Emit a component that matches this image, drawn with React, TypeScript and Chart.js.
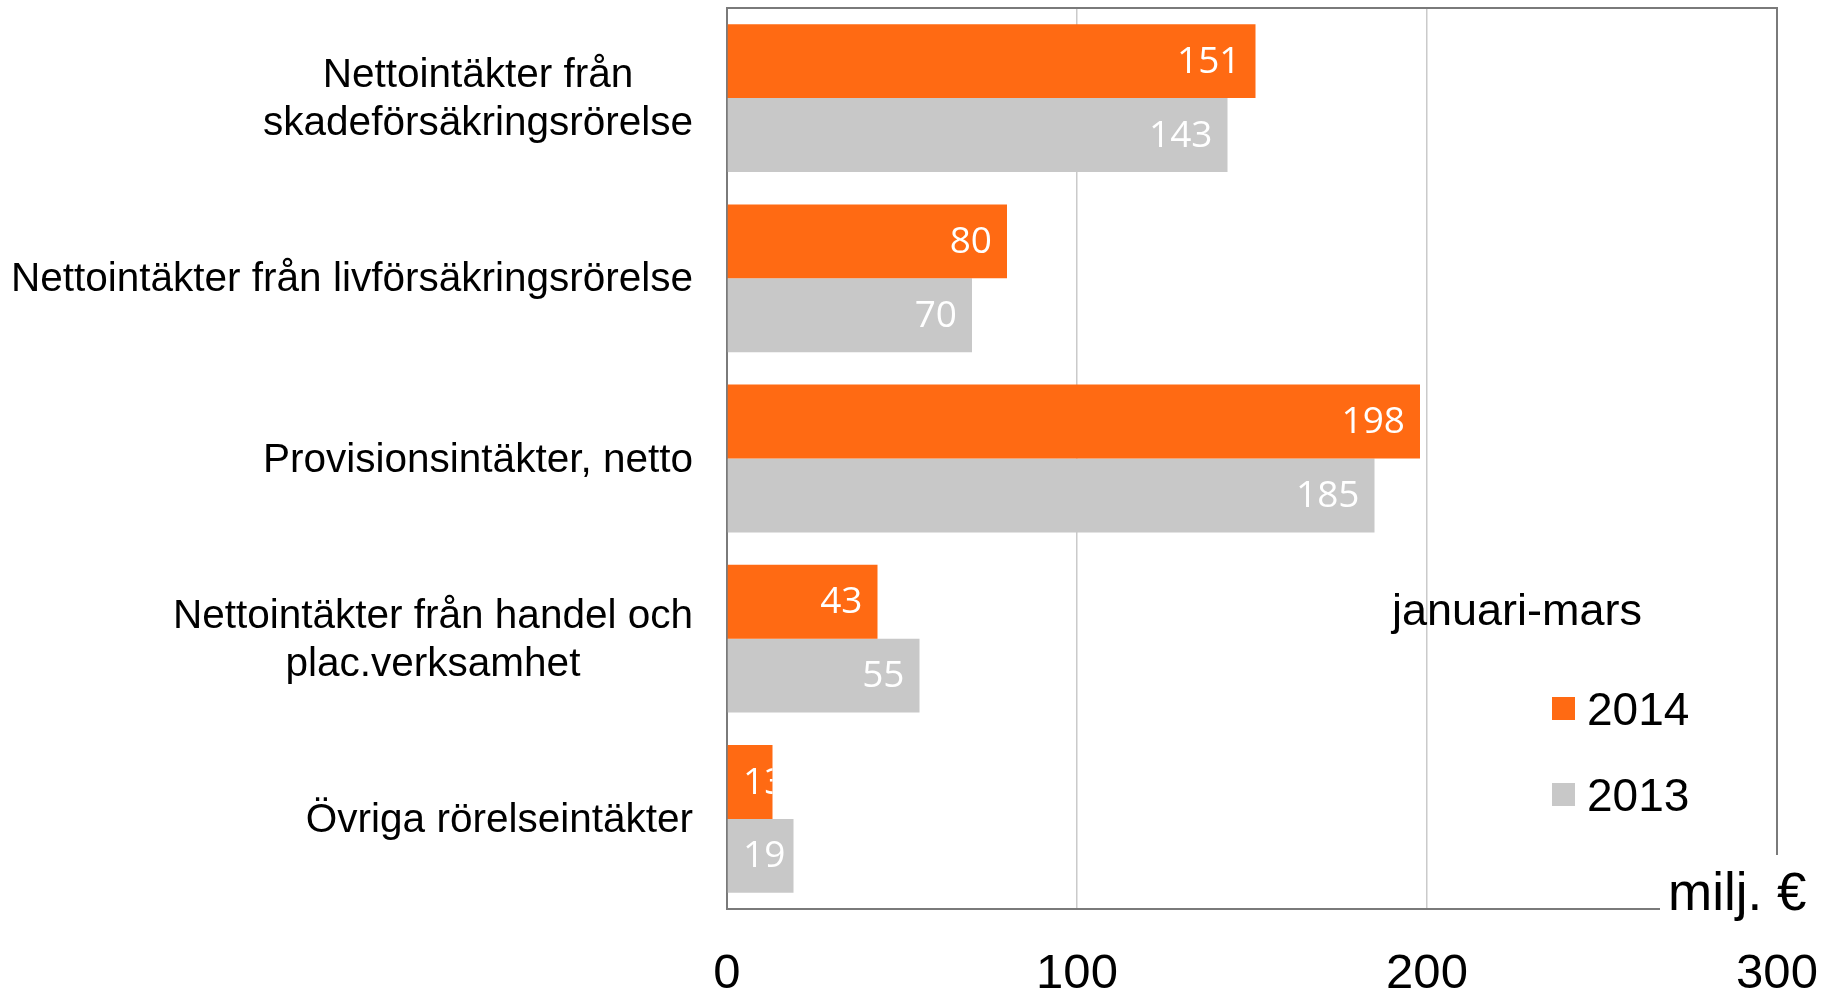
import React, { useEffect, useRef } from "react";
import { Chart, registerables } from "chart.js";

Chart.register(...registerables);

// ---- data ----
const categories: string[][] = [
  ["Nettointäkter från", "skadeförsäkringsrörelse"],
  ["Nettointäkter från livförsäkringsrörelse"],
  ["Provisionsintäkter, netto"],
  ["Nettointäkter från handel och", "plac.verksamhet"],
  ["Övriga rörelseintäkter"],
];
const seriesNames = ["2014", "2013"];
const values2014 = [151, 80, 198, 43, 13];
const values2013 = [143, 70, 185, 55, 19];
const xTickValues = [0, 100, 200, 300];
const legendTitle = "januari-mars";
const unitLabel = "milj. €";

// ---- styles ----
const ORANGE = "#ff6a13";
const GREY = "#c8c8c8";
const BORDER = "#7a7a7a";
const GRID = "#cacaca";
const SANS = "'Liberation Sans', Arial, sans-serif";
const LABEL_FONT = "'Open Sans', 'Noto Sans', sans-serif";

const customPlugin = {
  id: "customDecor",
  afterDatasetsDraw(chart: any) {
    const ctx = chart.ctx as CanvasRenderingContext2D;
    const area = chart.chartArea;
    ctx.save();
    ctx.font = `37px ${LABEL_FONT}`;
    ctx.fillStyle = "#ffffff";
    ctx.textBaseline = "middle";
    ctx.textAlign = "left";
    chart.data.datasets.forEach((ds: any, di: number) => {
      const meta = chart.getDatasetMeta(di);
      meta.data.forEach((bar: any, i: number) => {
        const p = bar.getProps(["x", "y", "base", "height"], true);
        const text = String(ds.data[i]);
        const w = ctx.measureText(text).width;
        const x = Math.max(p.x - 15 - w, area.left + 16);
        ctx.save();
        ctx.beginPath();
        ctx.rect(p.base, p.y - p.height / 2, p.x - p.base, p.height);
        ctx.clip();
        ctx.fillText(text, x, p.y + 1);
        ctx.restore();
      });
    });
    ctx.restore();
  },
  afterDraw(chart: any) {
    const ctx = chart.ctx as CanvasRenderingContext2D;
    const area = chart.chartArea;
    const yScale = chart.scales.y;
    ctx.save();

    // top and right frame lines
    ctx.strokeStyle = BORDER;
    ctx.lineWidth = 2;
    ctx.beginPath();
    ctx.moveTo(area.left, area.top);
    ctx.lineTo(area.right, area.top);
    ctx.lineTo(area.right, area.bottom);
    ctx.stroke();

    // category labels (lines centred on each other, block right-aligned)
    ctx.font = `40.5px ${SANS}`;
    ctx.fillStyle = "#000000";
    ctx.textAlign = "center";
    ctx.textBaseline = "middle";
    const lineH = 48;
    const rightEdge = area.left - 34;
    categories.forEach((lines, i) => {
      const yc = yScale.getPixelForValue(i);
      const maxW = Math.max(...lines.map((l) => ctx.measureText(l).width));
      const cx = rightEdge - maxW / 2;
      lines.forEach((l, j) => {
        ctx.fillText(l, cx, yc + (j - (lines.length - 1) / 2) * lineH + 2);
      });
    });

    // unit label with white background covering frame corner
    ctx.fillStyle = "#ffffff";
    ctx.fillRect(area.right - 117, area.bottom - 54, 200, 76);
    ctx.fillStyle = "#000000";
    ctx.font = `53px ${SANS}`;
    ctx.textAlign = "left";
    ctx.textBaseline = "alphabetic";
    ctx.fillText(unitLabel, area.right - 109, area.bottom + 1);

    // legend
    ctx.font = `45px ${SANS}`;
    ctx.fillText(legendTitle, area.right - 385, area.top + 617);
    ctx.font = `46px ${SANS}`;
    chart.data.datasets.forEach((ds: any, di: number) => {
      const cy = area.top + 700.5 + di * 86;
      ctx.fillStyle = ds.backgroundColor;
      ctx.fillRect(area.right - 225, cy - 11.5, 23, 23);
      ctx.fillStyle = "#000000";
      ctx.fillText(ds.label, area.right - 190, cy + 16.5);
    });

    ctx.restore();
  },
};

export default function App() {
  const canvasRef = useRef<HTMLCanvasElement | null>(null);

  useEffect(() => {
    if (!canvasRef.current) return;
    const chart = new Chart(canvasRef.current, {
      type: "bar",
      data: {
        labels: categories.map((c) => c.join(" ")),
        datasets: [
          {
            label: seriesNames[0],
            data: values2014,
            backgroundColor: ORANGE,
            borderWidth: 0,
            categoryPercentage: 0.82,
            barPercentage: 1,
          },
          {
            label: seriesNames[1],
            data: values2013,
            backgroundColor: GREY,
            borderWidth: 0,
            categoryPercentage: 0.82,
            barPercentage: 1,
          },
        ],
      },
      options: {
        indexAxis: "y",
        animation: false,
        responsive: false,
        devicePixelRatio: 1,
        layout: { padding: { top: 8, right: 58, left: 0, bottom: 0 } },
        plugins: {
          legend: { display: false },
          tooltip: { enabled: false },
          title: { display: false },
        },
        scales: {
          x: {
            type: "linear",
            min: xTickValues[0],
            max: xTickValues[xTickValues.length - 1],
            afterBuildTicks: (scale: any) => {
              scale.ticks = xTickValues.map((v) => ({ value: v }));
            },
            afterFit: (scale: any) => {
              scale.height = 84;
              scale.paddingLeft = 0;
              scale.paddingRight = 0;
            },
            grid: {
              drawTicks: false,
              lineWidth: 1.5,
              color: (c: any) =>
                c.tick && (c.tick.value === xTickValues[0] || c.tick.value === xTickValues[xTickValues.length - 1])
                  ? "rgba(0,0,0,0)"
                  : GRID,
            },
            border: { display: true, color: BORDER, width: 2 },
            ticks: {
              padding: 36,
              color: "#000000",
              font: { family: SANS, size: 49 },
              callback: (v: any) => String(v),
            },
          },
          y: {
            type: "category",
            afterFit: (scale: any) => {
              scale.width = 727;
            },
            grid: { display: false, drawTicks: false },
            border: { display: true, color: BORDER, width: 2 },
            ticks: { display: false },
          },
        },
      },
      plugins: [customPlugin],
    } as any);
    return () => chart.destroy();
  }, []);

  return (
    <div style={{ position: "absolute", left: 0, top: 0, width: 1835, height: 993, background: "#ffffff" }}>
      <canvas ref={canvasRef} width={1835} height={993} style={{ display: "block" }} />
    </div>
  );
}
